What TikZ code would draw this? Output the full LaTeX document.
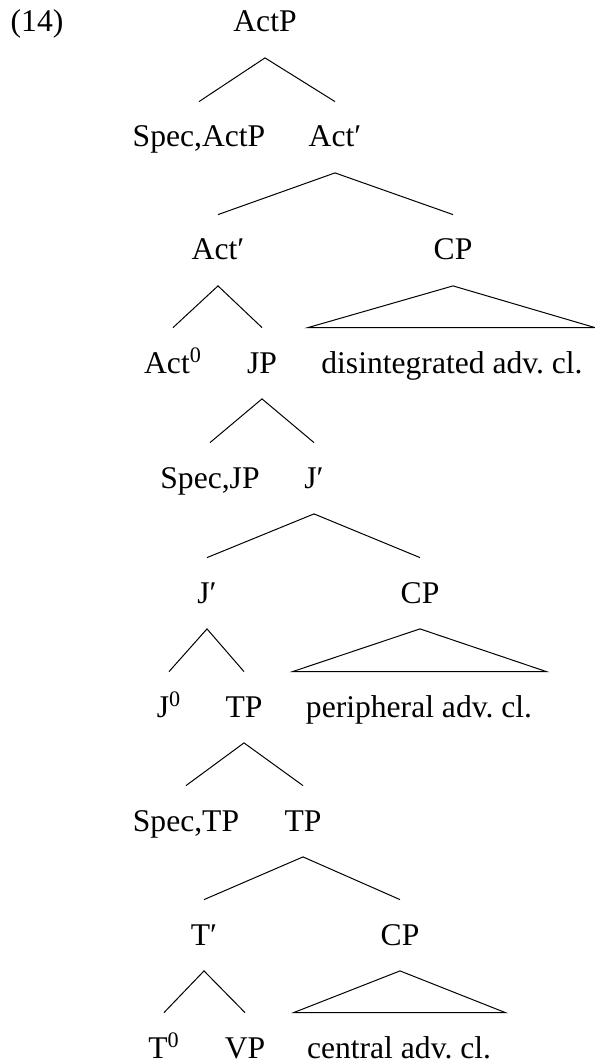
\documentclass[tikz,border=0pt]{standalone}
\usepackage{fontspec}
\setmainfont{Liberation Serif}
\frenchspacing
\begin{document}
\begin{tikzpicture}[x=0.5pt,y=-0.5pt,
  lbl/.style={anchor=base, inner sep=0pt, text height=22.5pt, text depth=12.75pt, font=\fontsize{15.8}{18}\selectfont},
  edge/.style={line width=0.5pt},
  tri/.style={line width=0.5pt, line join=miter}]
\useasboundingbox (0,0) rectangle (594,1063);
\node[lbl] (ex) at (37,32) {(14)};
\node[lbl] (actp) at (265,32) {ActP};
\node[lbl] (specactp) at (199,147) {Spec,ActP};
\node[lbl] (actbarA) at (335,147) {Act′};
\node[lbl] (actbarB) at (218,260) {Act′};
\node[lbl] (cpA) at (453,260) {CP};
\node[lbl] (actzero) at (173,373) {Act\textsuperscript{0}};
\node[lbl] (jp) at (262,373) {JP};
\node[lbl] (dis) at (452,373) {disintegrated adv. cl.};
\node[lbl] (specjp) at (210,488) {Spec,JP};
\node[lbl] (jbarA) at (314,488) {J′};
\node[lbl] (jbarB) at (207,603) {J′};
\node[lbl] (cpB) at (420,603) {CP};
\node[lbl] (jzero) at (169,717) {J\textsuperscript{0}};
\node[lbl] (tpA) at (244,717) {TP};
\node[lbl] (per) at (419,717) {peripheral adv. cl.};
\node[lbl] (spectp) at (186,831) {Spec,TP};
\node[lbl] (tpB) at (303,831) {TP};
\node[lbl] (tbar) at (204,945) {T′};
\node[lbl] (cpC) at (400,945) {CP};
\node[lbl] (tzero) at (164,1058) {T\textsuperscript{0}};
\node[lbl] (vp) at (245,1058) {VP};
\node[lbl] (cen) at (399,1058) {central adv. cl.};
\draw[edge] (specactp.north) -- (actp.south) -- (actbarA.north);
\draw[edge] (actbarB.north) -- (actbarA.south) -- (cpA.north);
\draw[edge] (actzero.north) -- (actbarB.south) -- (jp.north);
\draw[tri] (cpA.south) -- ([xshift=-6.5pt]dis.north west) -- ([xshift=6pt]dis.north east) -- cycle;
\draw[edge] (specjp.north) -- (jp.south) -- (jbarA.north);
\draw[edge] (jbarB.north) -- (jbarA.south) -- (cpB.north);
\draw[edge] (jzero.north) -- (jbarB.south) -- (tpA.north);
\draw[tri] (cpB.south) -- ([xshift=-6.5pt]per.north west) -- ([xshift=7pt]per.north east) -- cycle;
\draw[edge] (spectp.north) -- (tpA.south) -- (tpB.north);
\draw[edge] (tbar.north) -- (tpB.south) -- (cpC.north);
\draw[edge] (tzero.north) -- (tbar.south) -- (vp.north);
\draw[tri] (cpC.south) -- ([xshift=-6.5pt]cen.north west) -- ([xshift=7pt]cen.north east) -- cycle;
\end{tikzpicture}
\end{document}
